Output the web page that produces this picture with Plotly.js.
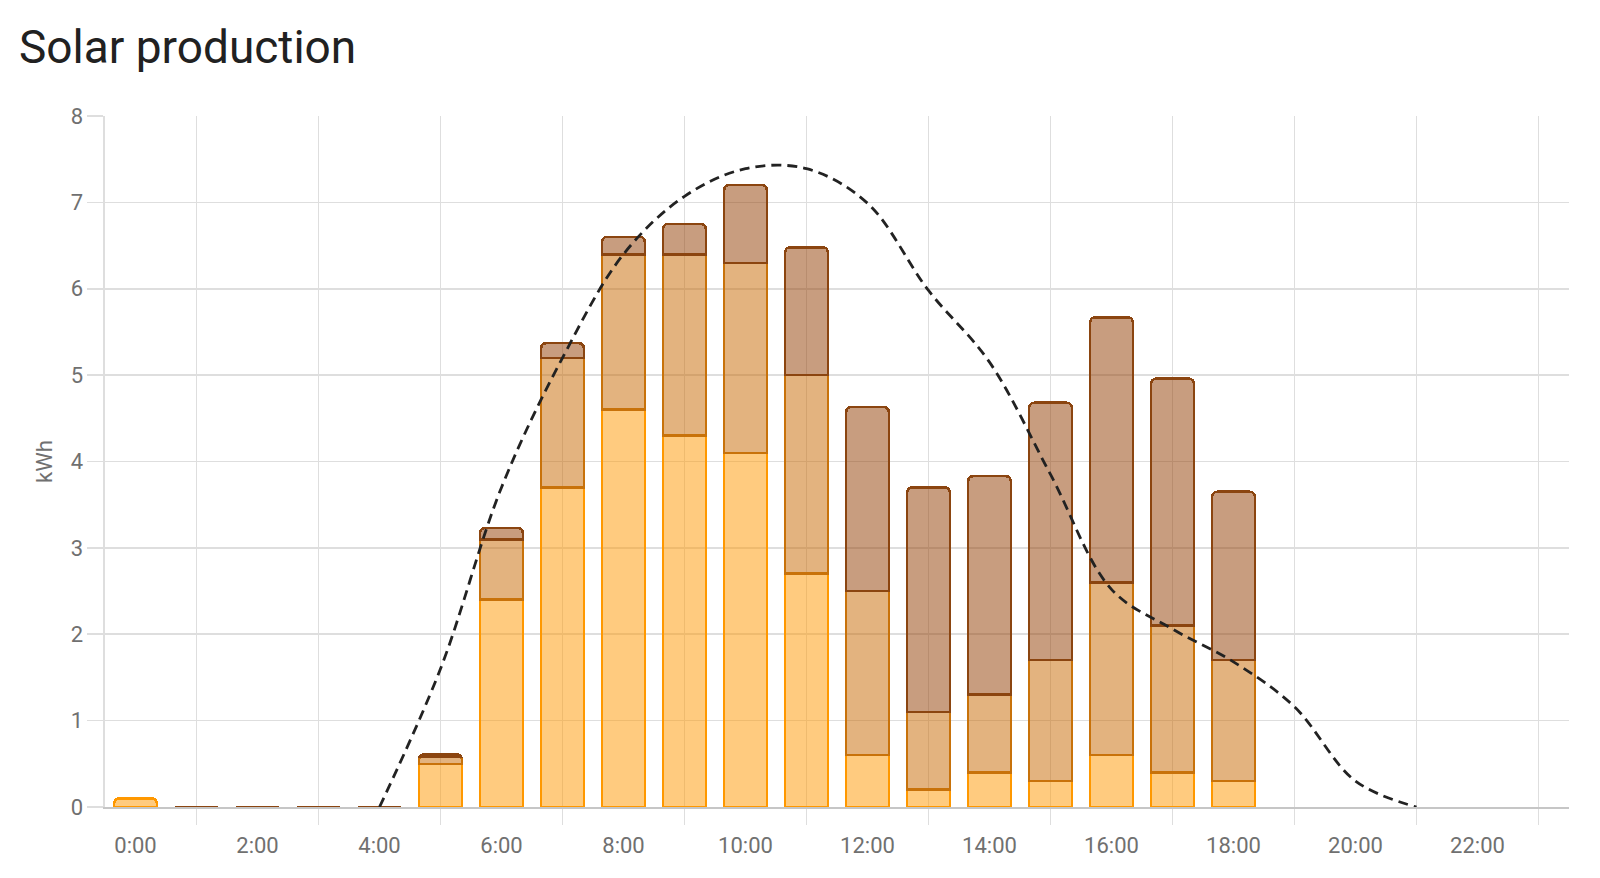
<!DOCTYPE html>
<html>
<head>
<meta charset="utf-8">
<script src="https://cdn.plot.ly/plotly-3.0.1.min.js"></script>
<style>
  html, body { margin: 0; padding: 0; background: #fff; }
  #chart { width: 1600px; height: 878px; }
</style>
</head>
<body>
<div id="chart"></div>
<script>
// hours of the day, bars sit on the hour
const hours = [0,1,2,3,4,5,6,7,8,9,10,11,12,13,14,15,16,17,18,19,20,21,22,23];
const labelHours = [0,2,4,6,8,10,12,14,16,18,20,22];
const labelText = ['0:00','2:00','4:00','6:00','8:00','10:00','12:00','14:00','16:00','18:00','20:00','22:00'];
const gridHours = [1,3,5,7,9,11,13,15,17,19,21,23];

// kWh per source, stacked bottom to top
const source1 = [0.1,0,0,0,0,0.5,2.4,3.7,4.6,4.3,4.1,2.7,0.6,0.2,0.4,0.3,0.6,0.4,0.3,null,null,null,null,null];
const source2 = [null,0,0,0,0,0.08,0.7,1.5,1.8,2.1,2.2,2.3,1.9,0.9,0.9,1.4,2.0,1.7,1.4,null,null,null,null,null];
const source3 = [null,0,0,0,0,0.03,0.13,0.17,0.2,0.35,0.9,1.48,2.13,2.6,2.53,2.98,3.07,2.86,1.95,null,null,null,null,null];

// forecast (dashed)
const forecast = [null,null,null,null,0,1.6,3.7,5.2,6.4,7.07,7.39,7.39,6.99,5.98,5.15,3.85,2.52,2.06,1.68,1.16,0.3,0,null,null];

const fontFam = 'Roboto, "Noto Sans", sans-serif';
const gridCol = '#dedede';
const tickFont = {family: fontFam, size: 22, color: '#707070'};

function barTrace(vals, fill, line) {
  return {
    x: hours,
    y: vals,
    type: 'bar',
    marker: {color: fill, line: {color: line, width: 2.6}},
    hoverinfo: 'skip'
  };
}

var traces = [
  barTrace(source1, 'rgba(255,152,0,0.5)', '#ff9800'),
  barTrace(source2, 'rgba(199,104,0,0.5)', '#c8720a'),
  barTrace(source3, 'rgba(145,60,0,0.5)', '#8b4510'),
  {
    x: hours,
    y: forecast,
    type: 'scatter',
    mode: 'lines',
    line: {color: '#222222', width: 2.8, dash: '10px,6px', shape: 'spline'},
    connectgaps: false,
    hoverinfo: 'skip'
  }
];

var layout = {
  width: 1600,
  height: 878,
  margin: {l: 105, r: 31, t: 116, b: 71},
  paper_bgcolor: '#ffffff',
  plot_bgcolor: '#ffffff',
  showlegend: false,
  barmode: 'stack',
  bargap: 0.3,
  barcornerradius: 5,
  font: {family: fontFam},
  title: {
    text: 'Solar production',
    font: {family: fontFam, size: 46, color: '#212121'},
    xref: 'container', x: 19 / 1600, xanchor: 'left',
    yref: 'container', y: 1 - 47 / 878, yanchor: 'middle'
  },
  xaxis: {
    range: [-0.5, 23.5],
    tickmode: 'array',
    tickvals: labelHours,
    ticktext: labelText,
    ticks: 'outside',
    ticklen: 18,
    tickcolor: 'rgba(0,0,0,0)',
    tickfont: tickFont,
    showgrid: false,
    zeroline: false,
    showline: true,
    linecolor: '#c6c6c6',
    linewidth: 2,
    minor: {
      tickmode: 'array',
      tickvals: gridHours,
      showgrid: true,
      gridcolor: gridCol,
      gridwidth: 1.6,
      ticks: 'outside',
      ticklen: 16,
      tickcolor: gridCol,
      tickwidth: 1.6
    },
    fixedrange: true
  },
  yaxis: {
    range: [0, 8],
    dtick: 1,
    tickfont: tickFont,
    ticks: 'outside',
    ticklen: 16,
    tickcolor: gridCol,
    tickwidth: 1.6,
    showgrid: true,
    gridcolor: gridCol,
    gridwidth: 1.6,
    zeroline: false,
    showline: true,
    linecolor: gridCol,
    linewidth: 1.6,
    title: {text: 'kWh', font: {family: fontFam, size: 22, color: '#707070'}, standoff: 12},
    fixedrange: true
  }
};

Plotly.newPlot('chart', traces, layout, {displayModeBar: false, staticPlot: true});
</script>
</body>
</html>
